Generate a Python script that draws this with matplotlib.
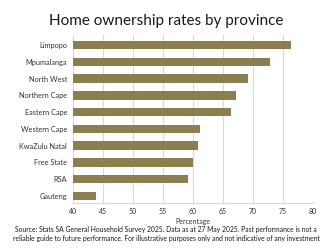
import matplotlib.pyplot as plt

provinces = ['Limpopo', 'Mpumalanga', 'North West', 'Northern Cape', 'Eastern Cape',
             'Western Cape', 'KwaZulu Natal', 'Free State', 'RSA', 'Gauteng']
rates = [76.3, 72.9, 69.1, 67.2, 66.4, 61.2, 60.9, 60.1, 59.2, 43.9]
x_ticks = [40, 45, 50, 55, 60, 65, 70, 75, 80]

bar_color = '#8c7f4e'
text_color = '#333333'

plt.rcParams['font.family'] = ['Lato', 'DejaVu Sans']

fig = plt.figure(figsize=(3.32, 2.49), dpi=100)
ax = fig.add_axes([0.219, 0.185, 0.724, 0.674])

pos = list(range(len(provinces)))
ax.barh(pos, [r - 40 for r in rates], left=40, height=0.5, color=bar_color, zorder=3)

ax.set_xlim(40, 80)
ax.set_ylim(9.42, -0.6)
ax.set_xticks(x_ticks)
ax.set_xticklabels([str(t) for t in x_ticks], fontsize=5, color=text_color)
ax.set_yticks(pos)
ax.set_yticklabels(provinces, fontsize=5.3, color=text_color)
ax.tick_params(length=0, pad=4)
ax.grid(axis='x', color='#d9d9d9', linewidth=0.8, zorder=0)

for side in ['top', 'right', 'left']:
    ax.spines[side].set_visible(False)
ax.spines['bottom'].set_color('#d9d9d9')
ax.spines['bottom'].set_linewidth(0.8)

ax.set_xlabel('Percentage', fontsize=5, color=text_color, labelpad=2)

fig.text(0.5, 0.915, 'Home ownership rates by province', ha='center', va='center',
         fontsize=11, color='#1a1a1a')

fig.text(0.5, 0.093, 'Source: Stats SA General Household Survey 2025. Data as at 27 May 2025. Past performance is not a\n'
         'reliable guide to future performance. For illustrative purposes only and not indicative of any investment',
         ha='center', va='top', fontsize=4.85, color='#1a1a1a', linespacing=1.3)

plt.savefig('out.png', dpi=100)
